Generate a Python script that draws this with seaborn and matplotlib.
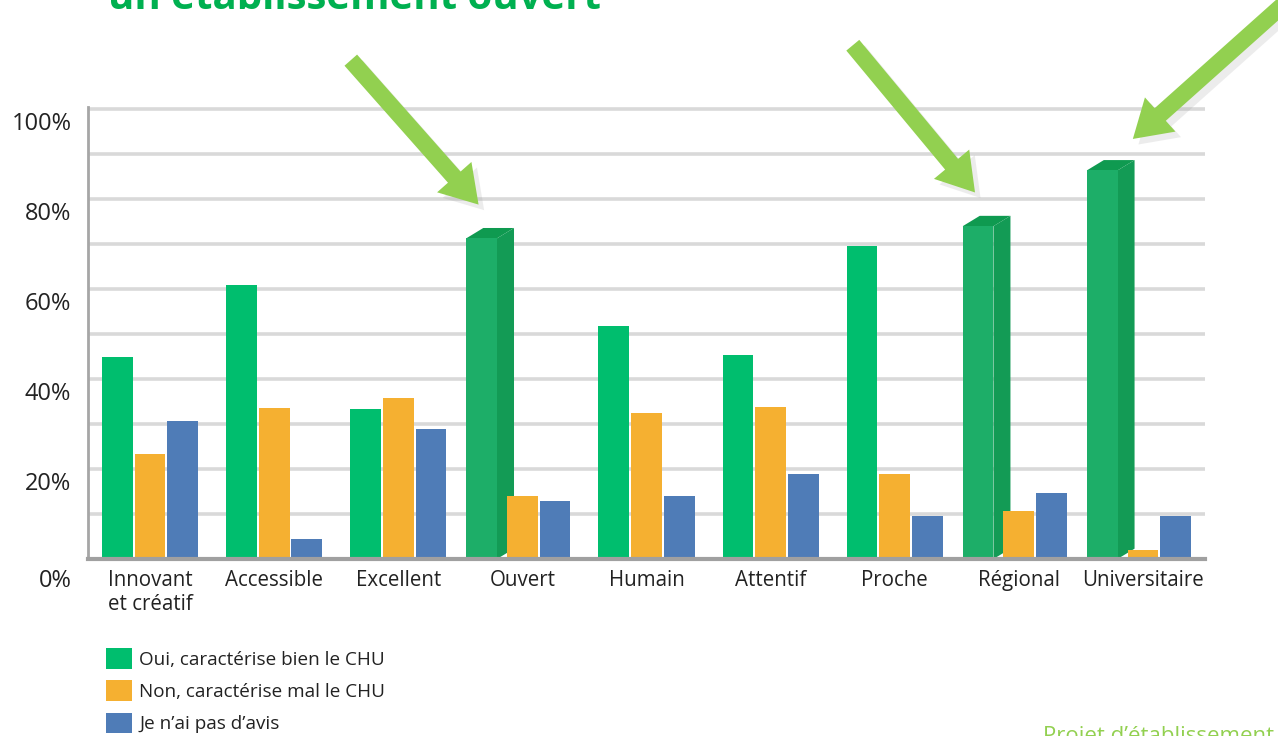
import matplotlib
matplotlib.use('Agg')
import matplotlib.pyplot as plt
import matplotlib.transforms as mtransforms
from matplotlib.patches import Polygon, Patch
from matplotlib import patheffects
import seaborn as sns
import pandas as pd

categories = ["Innovant\net créatif", "Accessible", "Excellent", "Ouvert", "Humain",
              "Attentif", "Proche", "Régional", "Universitaire"]
series = ["Oui, caractérise bien le CHU", "Non, caractérise mal le CHU", "Je n’ai pas d’avis"]
oui = [45.0, 61.0, 33.3, 71.3, 51.9, 45.3, 69.6, 74.0, 86.4]
non = [23.3, 33.5, 35.9, 14.0, 32.4, 33.7, 19.0, 10.7, 2.0]
sans_avis = [30.7, 4.4, 28.9, 12.8, 14.1, 18.9, 9.6, 14.6, 9.5]
highlight = ["Ouvert", "Régional", "Universitaire"]
y_ticks = [0, 20, 40, 60, 80, 100]

palette = ["#00BE6E", "#F5B031", "#4F7CB7"]
arrow_green = "#92D050"

rows = []
for cat, a, b, c in zip(categories, oui, non, sans_avis):
    rows.append({'Critère': cat, 'Réponse': series[0], 'Part': a})
    rows.append({'Critère': cat, 'Réponse': series[1], 'Part': b})
    rows.append({'Critère': cat, 'Réponse': series[2], 'Part': c})
df = pd.DataFrame(rows)

sns.set_theme(style='white')
plt.rcParams['font.family'] = ['Open Sans', 'DejaVu Sans']

fig = plt.figure(figsize=(12.78, 7.36), dpi=100)
ax = fig.add_axes([88 / 1278, 1 - 559 / 736, (1205 - 88) / 1278, (559 - 107) / 736])

sns.barplot(data=df, x='Critère', y='Part', hue='Réponse', palette=palette, saturation=1,
            width=0.79, gap=0.06, linewidth=0, legend=False, ax=ax)

ax.set_xlim(-0.5, len(categories) - 0.5)
ax.set_ylim(0, 100.5)
ax.set_axisbelow(True)
ax.set_yticks(y_ticks)
ax.set_yticks(range(10, 100, 20), minor=True)
ax.yaxis.grid(True, which='both', color='#D9D9D9', linewidth=2.6)
ax.set_yticklabels([f"{t}%" for t in y_ticks], fontsize=17, color='#222222')
ax.tick_params(axis='y', which='both', length=0, pad=12)
ax.tick_params(axis='x', length=0, pad=8)
ax.set_xticks(range(len(categories)))
ax.set_xticklabels(categories, fontsize=14.8, color='#222222', linespacing=1.2)
ax.set_xlabel("")
ax.set_ylabel("")
# labels sit a little lower than their gridlines in the original
for t, lab in zip(y_ticks, ax.get_yticklabels()):
    drop = 19 if t == 0 else 12
    offset = mtransforms.ScaledTranslation(0, -drop / 100, fig.dpi_scale_trans)
    lab.set_transform(lab.get_transform() + offset)

for side in ['top', 'right']:
    ax.spines[side].set_visible(False)
ax.spines['left'].set_color('#A6A6A6')
ax.spines['left'].set_linewidth(2)
ax.spines['bottom'].set_color('#A0A0A0')
ax.spines['bottom'].set_linewidth(3)

# 3D look for the highlighted "Oui" bars + arrows pointing at them
green_bars = ax.containers[0]
depth = 0.137
lift = 2.3
shift = -0.065
arrow_offsets = {"Ouvert": (-92, 104), "Régional": (-88, 106), "Universitaire": (112, 100)}
for name in highlight:
    i = categories.index(name)
    p = green_bars[i]
    x0 = p.get_x() + shift
    w = p.get_width()
    h = p.get_height()
    p.set_x(x0)
    p.set_facecolor('#1DAE68')
    side_face = Polygon([(x0 + w, 0), (x0 + w, h), (x0 + w + depth, h + lift), (x0 + w + depth, lift)],
                        closed=True, facecolor='#139B55', edgecolor='none', zorder=0.9)
    top_face = Polygon([(x0, h), (x0 + w, h), (x0 + w + depth, h + lift), (x0 + depth, h + lift)],
                       closed=True, facecolor='#0F9A50', edgecolor='none', zorder=0.9)
    ax.add_patch(side_face)
    ax.add_patch(top_face)

    if name == "Universitaire":
        tip = (x0 + w + depth * 0.9, h + 7)
    else:
        tip = (x0 + w * 0.4, h + 7.5)
    ann = ax.annotate("", xy=tip, xycoords='data', xytext=arrow_offsets[name], textcoords='offset points',
                      annotation_clip=False,
                      arrowprops=dict(arrowstyle='simple,head_length=1.2,head_width=1.5,tail_width=0.55',
                                      mutation_scale=22, facecolor=arrow_green, edgecolor='none',
                                      shrinkA=0, shrinkB=0))
    ann.arrow_patch.set_path_effects([patheffects.SimplePatchShadow(offset=(4, -4), shadow_rgbFace='#999999', alpha=0.18),
                                      patheffects.Normal()])

handles = [Patch(facecolor=c, edgecolor='none') for c in palette]
fig.legend(handles, series, loc='upper left', bbox_to_anchor=(106 / 1278, 1 - 648 / 736),
           frameon=False, fontsize=13.6, handlelength=1.35, handleheight=1.3,
           handletextpad=0.4, labelspacing=0.62, borderaxespad=0, borderpad=0,
           labelcolor='#222222')

fig.text(108 / 1278, 1 - 9 / 736, "un établissement ouvert", fontsize=29, fontweight='bold',
         color='#00B050', ha='left', va='baseline')
fig.text(1043 / 1278, 1 - 742 / 736, "Projet d’établissement", fontsize=16,
         color='#92D050', ha='left', va='baseline')

fig.savefig("out.png", dpi=100)
